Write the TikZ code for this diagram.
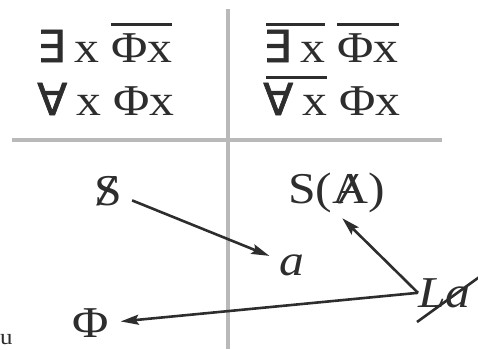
\documentclass[tikz,border=0pt]{standalone}
\usepackage{fontspec}
\setmainfont{Liberation Serif}[FakeStretch=1.13]
\newfontfamily\quantfont{DejaVu Sans}[FakeBold=1.5]
\usetikzlibrary{arrows.meta}
\definecolor{cink}{RGB}{45,45,45}
\definecolor{crule}{RGB}{185,185,185}
\newcommand\qex{\kern-3pt{\quantfont ∃}\kern9pt}
\newcommand\qall{\kern-3pt{\quantfont ∀}\kern9pt}
\newcommand\ovl[1]{\setbox0\hbox{#1}\rlap{\rule[0.82em]{\wd0}{0.07em}}\box0{}}
\newcommand\barred[1]{\ooalign{#1\cr\hidewidth\textbf{\textit{/}}\hidewidth}}
\tikzset{lacan/.style={x=1pt,y=-1pt,font=\fontsize{44}{50}\selectfont,text=cink},
  formula/.style={inner sep=0pt,anchor=base west},
  grid/.style={crule,line width=3.2pt},
  arr/.style={cink,line width=2.6pt,-{Stealth[length=18pt,width=10pt,inset=3pt]}},
  bar/.style={cink,line width=2.6pt}}

\begin{document}
\begin{tikzpicture}[lacan]
    \useasboundingbox (0,0) rectangle (478,349);
    \draw[grid] (228,9) -- (228,349);
    \draw[grid] (12,140) -- (442,140);
    \node[formula] (exphi)   at (40,62)   {\qex x \ovl{Φx}};
    \node[formula] (allphi)  at (40,115)  {\qall x Φx};
    \node[formula] (nexphi)  at (266,62)  {\ovl{\qex x} \ovl{Φx}};
    \node[formula] (nallphi) at (266,115) {\ovl{\qall x} Φx};
    \node[formula] (subj)  at (94,205)  {\barred{S}};
    \node[formula] (sbara) at (288,203) {S(\barred{A})};
    \node[formula] (obja)  at (279,275) {\textit{a}};
    \node[formula] (barla) at (418,307) {\textit{La}};
    \node[formula] (phi)   at (72,337)  {Φ};
    \node[formula,font=\fontsize{22}{26}\selectfont] (stray) at (0,344) {u};
    \draw[bar] ([shift={(-1,15)}]barla.base west) -- ++(72,-52);
    \draw[arr,shorten <=26pt,shorten >=24pt] (subj.center) -- (obja.center);
    \draw[arr,shorten >=8pt] (barla.west) -- (sbara.south);
    \draw[arr,shorten >=12pt] (barla.west) -- (phi.east);
\end{tikzpicture}
\end{document}
